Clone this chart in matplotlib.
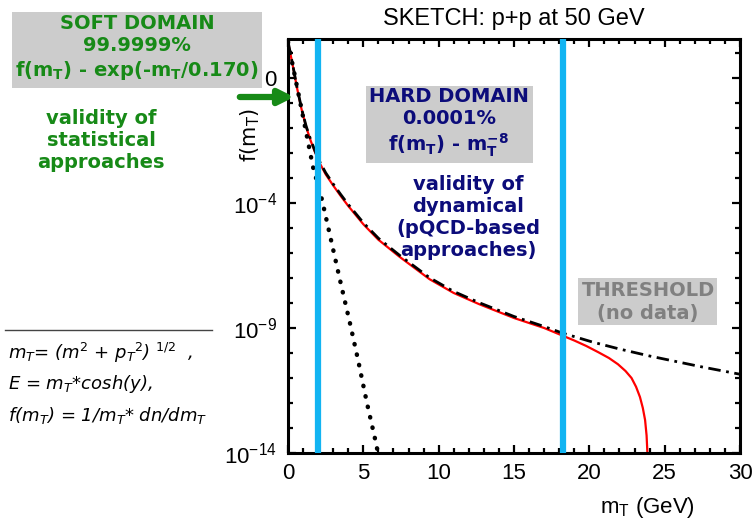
import numpy as np
import matplotlib
matplotlib.use('Agg')
import matplotlib.pyplot as plt
from matplotlib.patches import Rectangle
from matplotlib.lines import Line2D
from matplotlib.ticker import FixedLocator, FixedFormatter, MultipleLocator

# ---- data (log10 of f(mT)) ----
# full spectrum (red)
mt_full = [0, 0.3, 0.6, 0.9, 1.2, 1.5, 1.8, 2.1, 2.5, 3.0, 3.5, 4.0, 5.0, 6.0, 7.4,
           9.4, 11.0, 12.7, 15.0, 17.0, 18.2, 19.0, 19.8, 20.6, 21.3, 21.9, 22.4,
           22.8, 23.1, 23.36, 23.55, 23.7, 23.8, 23.87]
logf_full = [2.44, 1.55, 0.6, -0.25, -0.95, -1.5, -1.98, -2.4, -2.85, -3.3, -3.72,
             -4.12, -4.85, -5.47, -6.15, -7.05, -7.6, -8.05, -8.6, -9.0, -9.3,
             -9.5, -9.72, -9.97, -10.2, -10.45, -10.72, -11.0, -11.35, -11.76,
             -12.2, -12.68, -13.3, -14.2]
# power-law extrapolation (dash-dot)
mt_hard = [0, 0.3, 0.6, 0.9, 1.2, 1.5, 1.8, 2.1, 2.5, 3.0, 3.5, 4.0, 5.0, 6.0, 7.4,
           9.4, 11.0, 12.7, 15.0, 17.0, 18.2, 20.2, 22.0, 24.0, 25.35, 27.5, 30.0]
logf_hard = [2.46, 1.57, 0.62, -0.22, -0.92, -1.46, -1.93, -2.34, -2.79, -3.24,
             -3.66, -4.06, -4.79, -5.41, -6.09, -6.99, -7.54, -7.99, -8.54, -8.94,
             -9.2, -9.56, -9.84, -10.12, -10.29, -10.56, -10.85]
# exponential soft part (dotted)
mt_soft = [0, 0.5, 1.0, 1.33, 1.66, 2.26, 2.9, 3.45, 4.11, 4.65, 5.24, 5.84, 6.0]
logf_soft = [2.44, 0.95, -0.55, -1.56, -2.56, -3.88, -5.6, -7.08, -8.8, -10.28,
             -12.0, -13.6, -14.1]
domain_edges = [2.0, 18.25]

xticks = [0, 5, 10, 15, 20, 25, 30]
yticks = [1e-14, 1e-9, 1e-4, 1e1]
ytick_labels = [r'$\mathregular{10^{-14}}$', r'$\mathregular{10^{-9}}$',
                r'$\mathregular{10^{-4}}$', '0']

W, H = 752, 526
fig = plt.figure(figsize=(W / 100, H / 100), dpi=100)

def fx(x):
    return x / W

def fy(y):
    return 1 - y / H

ax = fig.add_axes([fx(288), fy(453), fx(740) - fx(288), fy(39) - fy(453)])

ax.plot(mt_full, 10 ** np.array(logf_full), color='red', lw=1.6, zorder=2)
ax.plot(mt_hard, 10 ** np.array(logf_hard), color='black', lw=2.0,
        linestyle=(0, (4.5, 2, 1, 2)), zorder=3)
ax.plot(mt_soft, 10 ** np.array(logf_soft), color='black', lw=3.2,
        linestyle=(0, (0.1, 2.3)), dash_capstyle='round', zorder=3)
for xe in domain_edges:
    ax.axvline(xe, color='#12b4f2', lw=4.5, zorder=4)

ax.set_yscale('log')
ax.set_xlim(0, 30)
ax.set_ylim(1e-14, 10 ** 2.56)

ax.xaxis.set_major_locator(FixedLocator(xticks))
ax.xaxis.set_minor_locator(MultipleLocator(1))
ax.yaxis.set_major_locator(FixedLocator(yticks))
ax.yaxis.set_major_formatter(FixedFormatter(ytick_labels))
ax.yaxis.set_minor_locator(FixedLocator([10.0 ** k for k in range(-14, 3)]))
ax.yaxis.set_minor_formatter(FixedFormatter([]))

ax.tick_params(which='both', direction='in', top=True, right=True, width=1.6)
ax.tick_params(which='major', length=6)
ax.tick_params(which='minor', length=3.5)
ax.tick_params(axis='x', which='major', pad=7)
ax.tick_params(axis='y', which='major', pad=8)
for lab in ax.get_xticklabels() + ax.get_yticklabels():
    lab.set_family('Liberation Sans')
    lab.set_fontsize(16)
for sp in ax.spines.values():
    sp.set_linewidth(2.2)

ax.set_title('SKETCH: p+p at 50 GeV', fontsize=17, family='Liberation Sans', pad=10)

fig.text(fx(250), fy(135), r'f(m$_\mathregular{T}$)', rotation=90, ha='center',
         va='center', fontsize=15)
fig.text(fx(647), fy(507), r'm$_\mathregular{T}$ (GeV)', ha='center', va='center',
         fontsize=16, family='Liberation Sans')

# ---- annotation boxes ----
def box(x0, y0, x1, y1):
    fig.add_artist(Rectangle((fx(x0), fy(y1)), fx(x1) - fx(x0), fy(y0) - fy(y1),
                             transform=fig.transFigure, facecolor='#cccccc',
                             edgecolor='none', zorder=5))

green = '#178a17'
navy = '#0c0c7a'

box(12, 12, 262, 88)
fig.text(fx(137), fy(48), 'SOFT DOMAIN\n99.9999%\n'
         r'f(m$_\mathbf{T}$) - exp(-m$_\mathbf{T}$/0.170)',
         ha='center', va='center', color=green, fontsize=14, fontweight='bold',
         linespacing=1.2, zorder=6)
fig.text(fx(101), fy(140), 'validity of\nstatistical\napproaches', ha='center',
         va='center', color=green, fontsize=14, fontweight='bold', zorder=6)

box(366, 86, 533, 163)
fig.text(fx(449), fy(123), 'HARD DOMAIN\n0.0001%\n'
         r'f(m$_\mathbf{T}$) - m$_\mathbf{T}^\mathbf{-8}$',
         ha='center', va='center', color=navy, fontsize=14, fontweight='bold',
         zorder=6)
fig.text(fx(468), fy(217), 'validity of\ndynamical\n(pQCD-based\napproaches)',
         ha='center', va='center', color=navy, fontsize=14, fontweight='bold',
         zorder=6)

box(578, 278, 717, 325)
fig.text(fx(648), fy(302), 'THRESHOLD\n(no data)', ha='center', va='center',
         color='#808080', fontsize=14, fontweight='bold', zorder=6)

# green arrow pointing at the curve
ax.annotate('', xy=(297, H - 97), xytext=(237, H - 97), xycoords='figure pixels',
            textcoords='figure pixels',
            arrowprops=dict(arrowstyle='-|>', color=green, lw=4.5,
                            mutation_scale=22), annotation_clip=False, zorder=7)

# definitions, bottom left
fig.add_artist(Line2D([fx(5), fx(212)], [fy(330), fy(330)], color='#444444',
                      lw=1.0, transform=fig.transFigure))
defs = [r'm$_T$= (m$^2$ + p$_T$$^2$) $^{1/2}$  ,',
        r'E = m$_T$*cosh(y),',
        r'f(m$_T$) = 1/m$_T$* dn/dm$_T$']
for i, line in enumerate(defs):
    fig.text(fx(8), fy(353 + 31 * i), line, ha='left', va='center',
             fontsize=13, style='italic')

fig.savefig('out.png', dpi=100)
